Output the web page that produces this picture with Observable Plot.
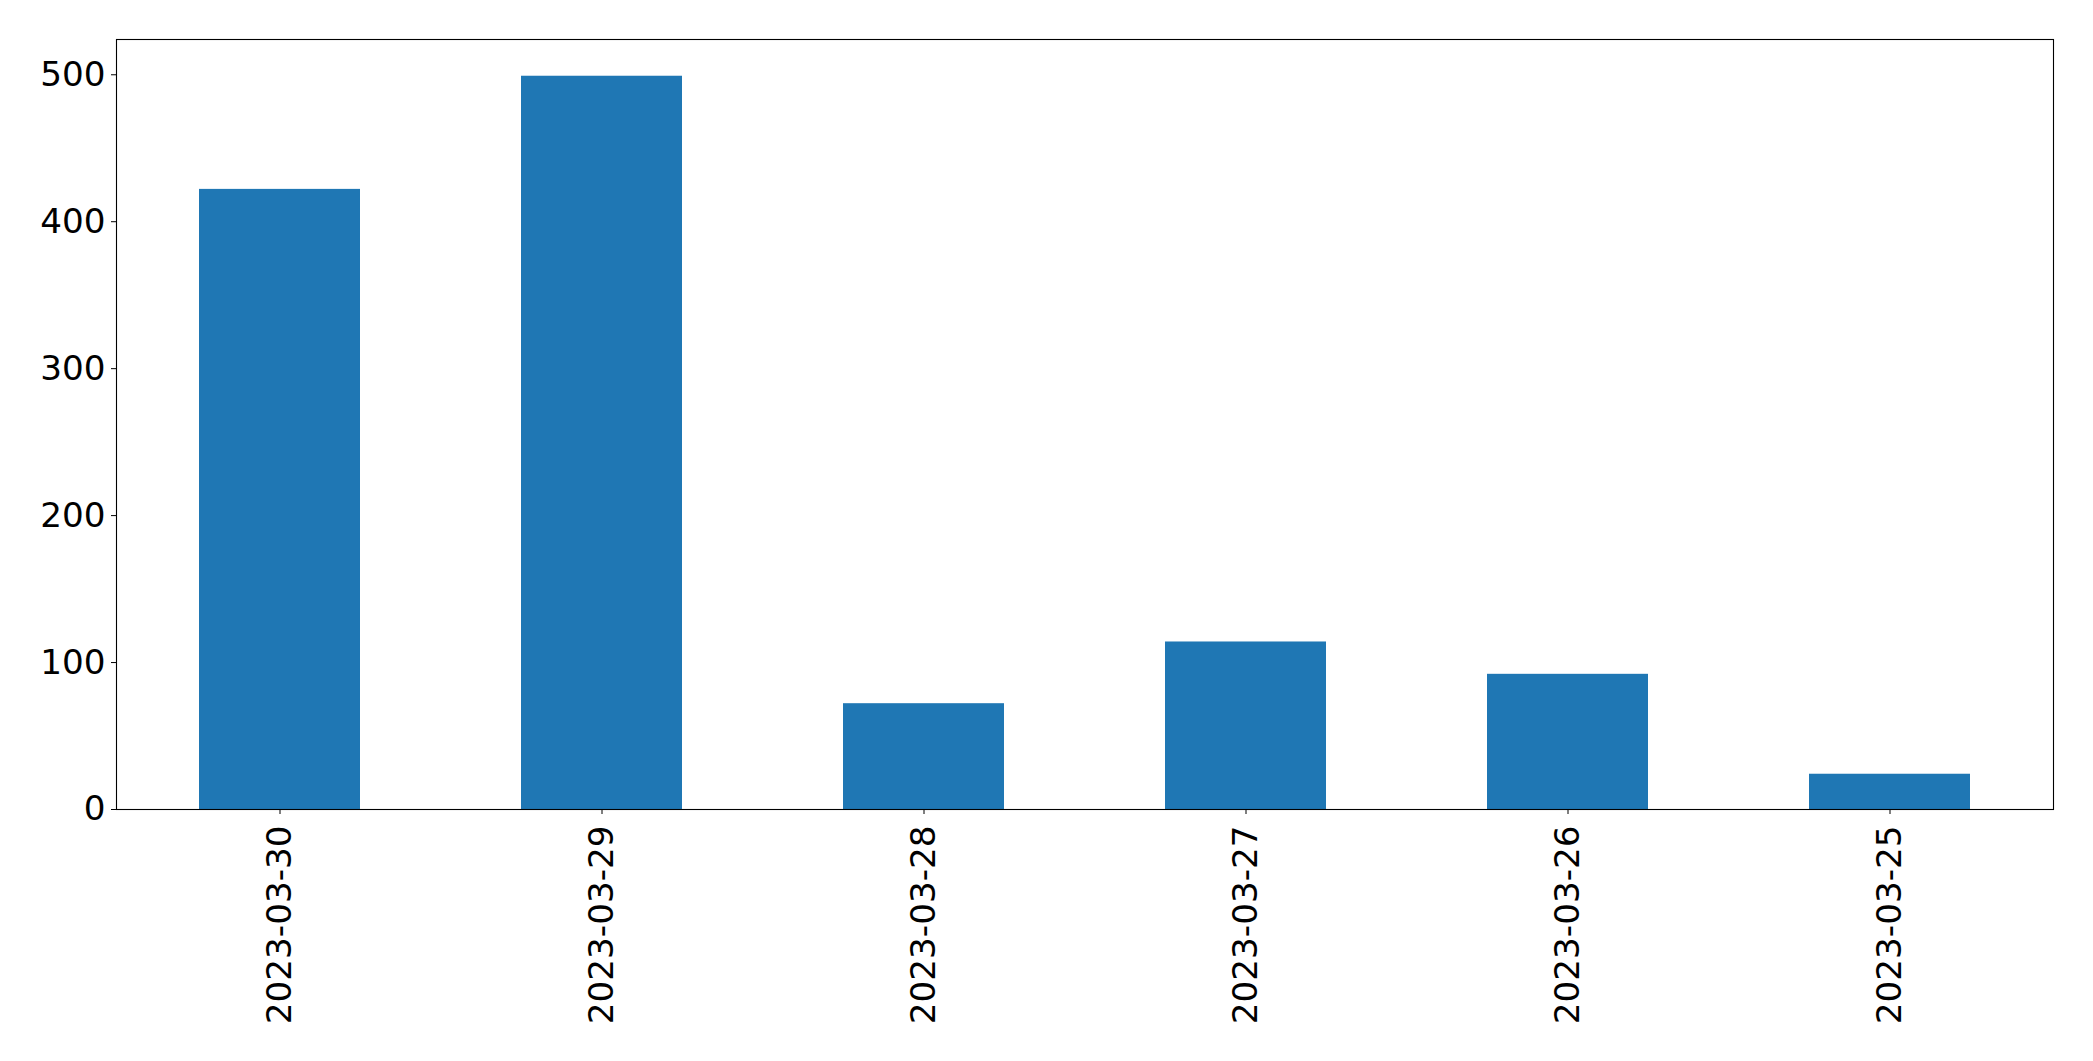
<!DOCTYPE html>
<html>
<head>
<meta charset="utf-8">
<script src="https://cdn.jsdelivr.net/npm/d3@7"></script>
<script src="https://cdn.jsdelivr.net/npm/@observablehq/plot@0.6"></script>
<style>
  html, body { margin: 0; padding: 0; background: #fff; }
  #chart svg { display: block; }
</style>
</head>
<body>
<div id="chart"></div>
<script>
const dates = ["2023-03-30", "2023-03-29", "2023-03-28", "2023-03-27", "2023-03-26", "2023-03-25"];
const counts = [422, 499, 72, 114, 92, 24];
const yTicks = [0, 100, 200, 300, 400, 500];

const data = dates.map((d, i) => ({date: d, count: counts[i]}));

const chart = Plot.plot({
  width: 2093,
  height: 1061,
  marginLeft: 116,
  marginRight: 40,
  marginTop: 39,
  marginBottom: 252,
  style: {fontFamily: "DejaVu Sans", fontSize: "34.2px", color: "#000", background: "#fff"},
  x: {domain: dates, paddingInner: 0.5, paddingOuter: 0.25, label: null},
  y: {domain: [0, 524], label: null},
  marks: [
    Plot.barY(data, {x: "date", y: "count", fill: "#1f77b4"}),
    Plot.axisY({ticks: yTicks, tickSize: 5, tickPadding: 6, fontSize: 34.2, label: null}),
    Plot.axisX({tickSize: 5, tickPadding: 11, tickRotate: -90, fontSize: 34.2, label: null}),
    Plot.frame({stroke: "#000", strokeWidth: 1.1})
  ]
});
document.getElementById("chart").appendChild(chart);
</script>
</body>
</html>
